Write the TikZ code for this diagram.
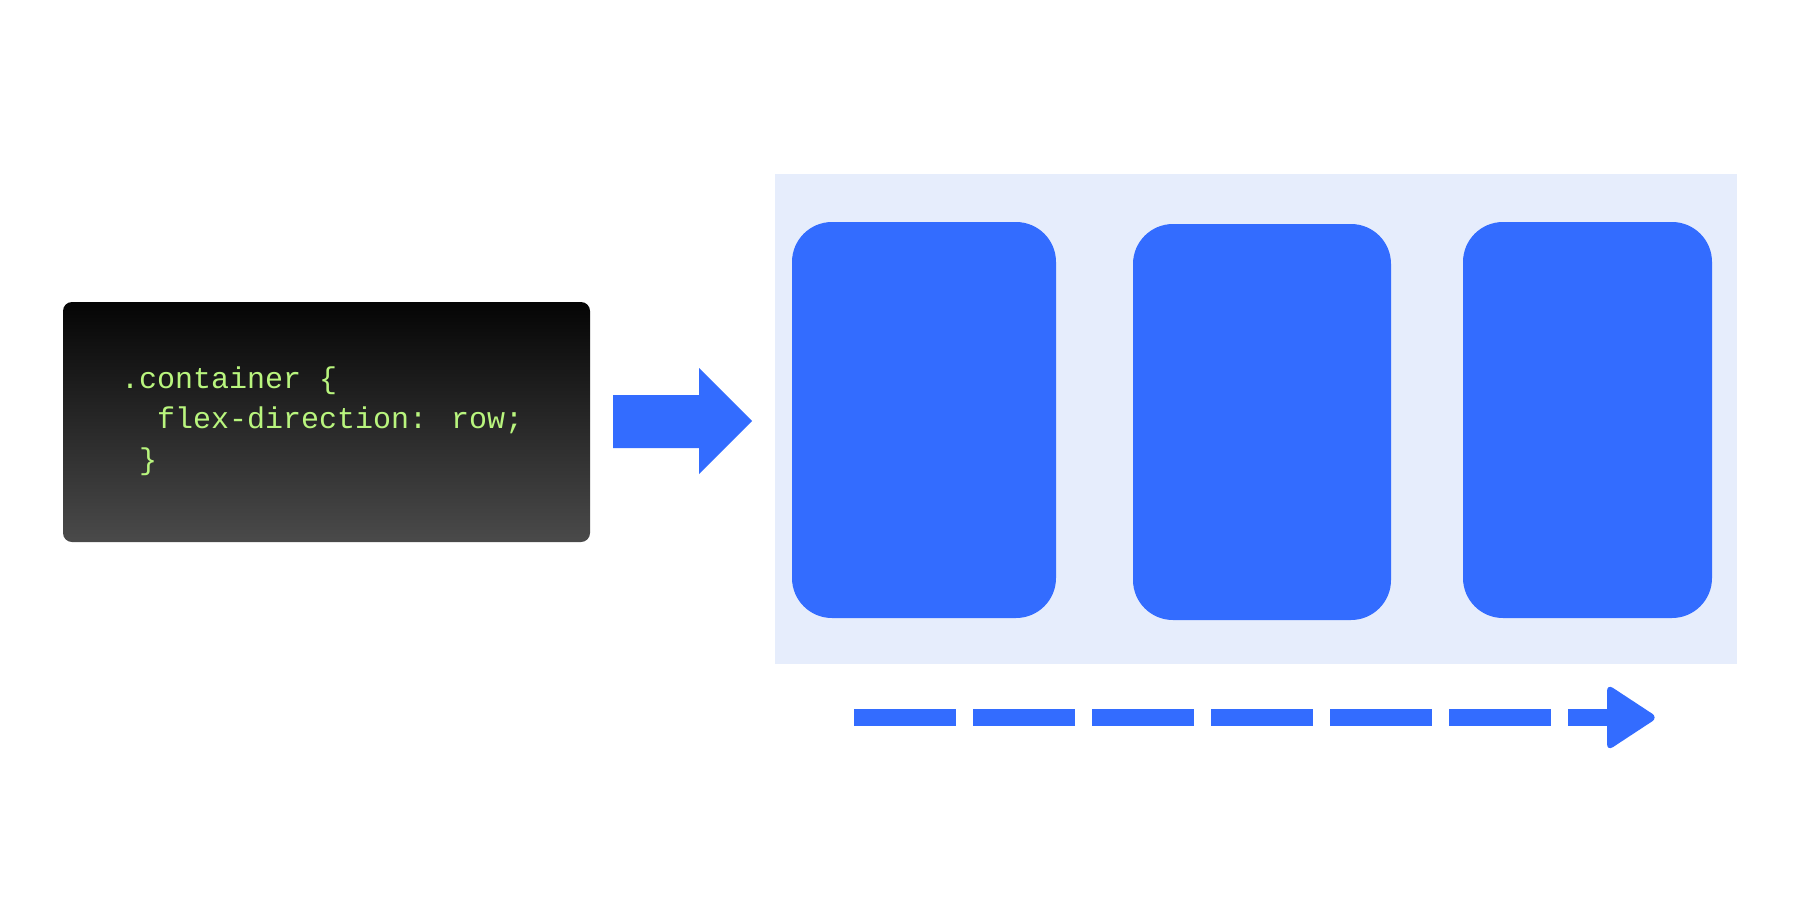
\documentclass[tikz,border=0pt]{standalone}
\usepackage{fontspec}
\newfontfamily\codefont{Liberation Mono}
\definecolor{flexblue}{HTML}{336CFF}
\definecolor{panel}{HTML}{E6EDFC}
\definecolor{codegreen}{HTML}{B9F57E}
\definecolor{codetop}{HTML}{050505}
\definecolor{codebot}{HTML}{4A4A4A}
\tikzset{
  card/.style={fill=flexblue, draw=none, rounded corners=40pt},
  codeline/.style={anchor=base west, inner sep=0pt, text=codegreen, font=\codefont\fontsize{30}{36}\selectfont},
}
\begin{document}
\begin{tikzpicture}[x=1pt,y=-1pt]
\useasboundingbox (0,0) rectangle (1800,900);
\fill[white] (0,0) rectangle (1800,900);
% code box
\shade[top color=codetop, bottom color=codebot, rounded corners=9pt] (63,302) rectangle (590,542);
\node[codeline] (l1) at (121,388) {.container \{};
\node[codeline] (l2) at (157,428) {flex-direction: row;};
\node[codeline] (l3) at (139,469) {\}};
% big arrow
\fill[flexblue] (613,395) -- (699,395) -- (699,368) -- (752,421) -- (699,474) -- (699,448) -- (613,448) -- cycle;
% container panel
\fill[panel] (775,174) rectangle (1737,664);
\fill[card] (792,222) rectangle (1056,618);
\fill[card] (1133,224) rectangle (1391,620);
\fill[card] (1463,222) rectangle (1712,618);
% dashed axis arrow
\coordinate (ds) at (854,717.5);
\coordinate (de) at (1612,717.5);
\draw[flexblue, line width=17pt, dash pattern=on 102pt off 17pt] (ds) -- (de);
\fill[flexblue, rounded corners=7pt] (1607,684) -- (1658,717.5) -- (1607,751) -- cycle;
\end{tikzpicture}
\end{document}
